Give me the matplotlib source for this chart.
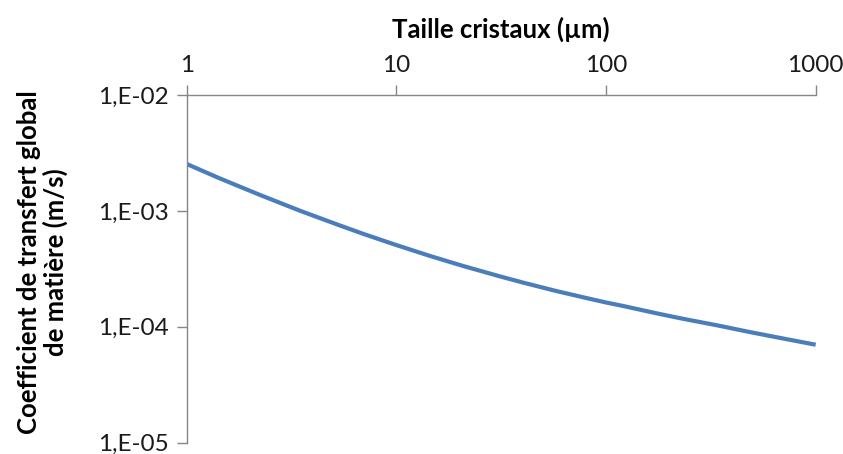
import numpy as np
import matplotlib.pyplot as plt
from matplotlib.ticker import FixedLocator, NullLocator

plt.rcParams['font.family'] = ['Lato', 'DejaVu Sans']

# crystal size (um) and overall mass transfer coefficient (m/s)
taille = [1.0, 1.44, 2.24, 3.47, 5.35, 6.96, 10.0, 14.5, 20.9, 31.0, 40.4,
          58.2, 84.0, 100.0, 121.0, 180.0, 234.0, 338.0, 487.0, 702.0, 1000.0]
coeff = [2.54e-3, 1.905e-3, 1.371e-3, 1.003e-3, 7.51e-4, 6.33e-4, 5.07e-4,
         4.08e-4, 3.34e-4, 2.73e-4, 2.40e-4, 2.03e-4, 1.74e-4, 1.62e-4,
         1.51e-4, 1.29e-4, 1.17e-4, 1.03e-4, 8.99e-5, 7.91e-5, 7.00e-5]

x_ticks = [1, 10, 100, 1000]
x_labels = ['1', '10', '100', '1000']
y_ticks = [1e-5, 1e-4, 1e-3, 1e-2]
y_labels = ['1,E-05', '1,E-04', '1,E-03', '1,E-02']

fig = plt.figure(figsize=(8.43, 4.54), dpi=100)
ax = fig.add_axes([0.2215, 0.025, 0.7461, 0.7657])

ax.plot(taille, coeff, color='#4A7EBB', linewidth=3.0, solid_capstyle='butt')

ax.set_xscale('log')
ax.set_yscale('log')
ax.set_xlim(1, 1000)
ax.set_ylim(1e-5, 1e-2)

# x axis sits on top
ax.xaxis.set_ticks_position('top')
ax.xaxis.set_label_position('top')
ax.xaxis.set_major_locator(FixedLocator(x_ticks))
ax.xaxis.set_minor_locator(NullLocator())
ax.set_xticklabels(x_labels)
ax.yaxis.set_major_locator(FixedLocator(y_ticks))
ax.yaxis.set_minor_locator(NullLocator())
ax.set_yticklabels(y_labels)

for side in ['bottom', 'right']:
    ax.spines[side].set_visible(False)
for side in ['top', 'left']:
    ax.spines[side].set_color('#868686')
    ax.spines[side].set_linewidth(1.0)

ax.tick_params(axis='both', direction='out', length=7, width=1.0,
               color='#868686', labelsize=17.5, labelcolor='#1a1a1a')
ax.tick_params(axis='x', pad=7)
ax.tick_params(axis='y', pad=6)

ax.set_xlabel('Taille cristaux (µm)', fontsize=18.5, fontweight='bold', labelpad=12)
ax.set_ylabel('Coefficient de transfert global\nde matière (m/s)', fontsize=18.5,
              fontweight='bold', linespacing=1.05)
ax.yaxis.set_label_coords(-0.189, 0.52)

fig.savefig('out.png', dpi=100)
